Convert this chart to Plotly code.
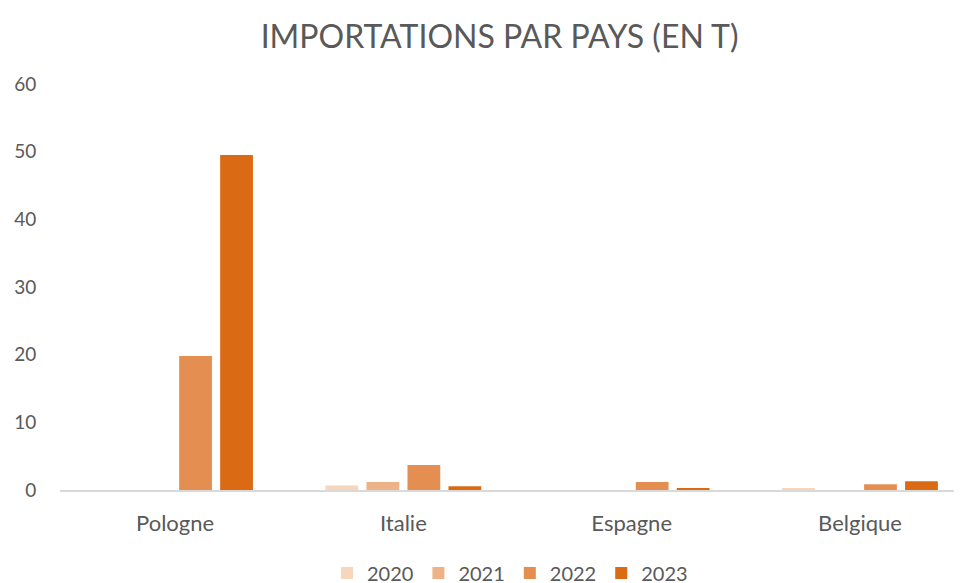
import plotly.graph_objects as go

categories = ["Pologne", "Italie", "Espagne", "Belgique"]
years = ["2020", "2021", "2022", "2023"]
v2020 = [0, 0.65, 0, 0.25]
v2021 = [0, 1.2, 0, 0]
v2022 = [19.8, 3.7, 1.2, 0.85]
v2023 = [49.5, 0.55, 0.25, 1.3]
series = [v2020, v2021, v2022, v2023]
colors = ["#F7D6BE", "#EDB285", "#E48F51", "#DB6A15"]

fig = go.Figure()
for y, vals, c in zip(years, series, colors):
    fig.add_trace(go.Bar(name=y, x=categories, y=vals, marker_color=c,
                         marker_line=dict(width=0)))

font = "Lato, 'Open Sans', sans-serif"
fig.update_layout(
    width=962, height=583,
    paper_bgcolor="white", plot_bgcolor="white",
    margin=dict(l=52, r=10, t=76, b=101, autoexpand=False),
    barmode="group", bargap=0.282, bargroupgap=0.2,
    title=dict(text="IMPORTATIONS PAR PAYS (EN T)", x=0.511, xanchor="center",
               xref="container", y=0.95, yanchor="middle",
               font=dict(family=font, size=32, color="#595959")),
    font=dict(family=font, size=20, color="#595959"),
    legend=dict(orientation="h", x=0.5, xanchor="center", xref="paper",
                yref="container", y=0.031, yanchor="middle",
                font=dict(size=20, color="#595959"), itemwidth=30, traceorder="normal"),
    xaxis=dict(showline=True, linecolor="#D9D9D9", linewidth=1.5,
               range=[-0.504, 3.438],
               ticks="outside", ticklen=13, tickcolor="rgba(0,0,0,0)",
               tickfont=dict(size=22, color="#595959"), showgrid=False),
    yaxis=dict(range=[0, 60], dtick=10, showgrid=False, zeroline=False,
               showline=False, ticks="outside", ticklen=19, tickcolor="rgba(0,0,0,0)",
               tickfont=dict(size=19, color="#595959")),
)
fig.write_html("out.html")
